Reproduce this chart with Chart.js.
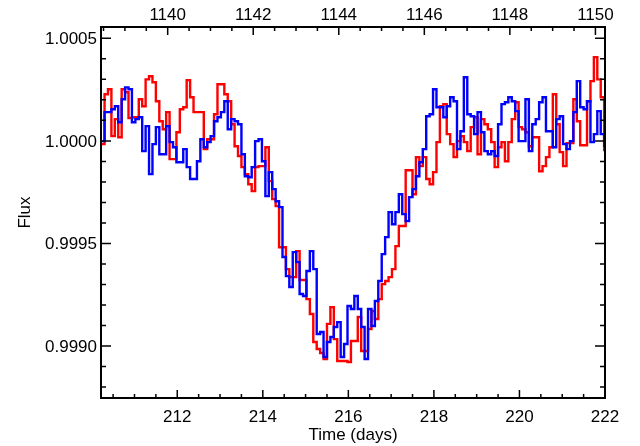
<!DOCTYPE html>
<html>
<head>
<meta charset="utf-8">
<script src="https://cdn.jsdelivr.net/npm/chart.js@4.4.0/dist/chart.umd.min.js"></script>
<style>
  html, body { margin: 0; padding: 0; background: #fff; }
  #wrap { width: 640px; height: 446px; }
</style>
</head>
<body>
<div id="wrap"><canvas id="chart" width="640" height="446"></canvas></div>
<script>
// bin start times (days)
const times = [
  210.22, 210.30, 210.38, 210.46, 210.54, 210.62, 210.70, 210.78, 210.86, 210.94,
  211.02, 211.10, 211.18, 211.26, 211.34, 211.42, 211.50, 211.58, 211.66, 211.74,
  211.82, 211.90, 211.98, 212.06, 212.14, 212.22, 212.30, 212.38, 212.46, 212.54,
  212.62, 212.70, 212.78, 212.86, 212.94, 213.02, 213.10, 213.18, 213.26, 213.34,
  213.42, 213.50, 213.58, 213.66, 213.74, 213.82, 213.90, 213.98, 214.06, 214.14,
  214.22, 214.30, 214.38, 214.46, 214.54, 214.62, 214.70, 214.78, 214.86, 214.94,
  215.02, 215.10, 215.18, 215.26, 215.34, 215.42, 215.50, 215.58, 215.66, 215.74,
  215.82, 215.90, 215.98, 216.06, 216.14, 216.22, 216.30, 216.38, 216.46, 216.54,
  216.62, 216.70, 216.78, 216.86, 216.94, 217.02, 217.10, 217.18, 217.26, 217.34,
  217.42, 217.50, 217.58, 217.66, 217.74, 217.82, 217.90, 217.98, 218.06, 218.14,
  218.22, 218.30, 218.38, 218.46, 218.54, 218.62, 218.70, 218.78, 218.86, 218.94,
  219.02, 219.10, 219.18, 219.26, 219.34, 219.42, 219.50, 219.58, 219.66, 219.74,
  219.82, 219.90, 219.98, 220.06, 220.14, 220.22, 220.30, 220.38, 220.46, 220.54,
  220.62, 220.70, 220.78, 220.86, 220.94, 221.02, 221.10, 221.18, 221.26, 221.34,
  221.42, 221.50, 221.58, 221.66, 221.74, 221.82, 221.90, 221.98
];

const fluxRed = [
  0.999984, 1.000227, 1.000252, 1.000023, 1.000106, 1.000018, 1.000252, 1.000237, 1.000111, 1.000115,
  1.000115, 1.000203, 1.000169, 1.000300, 1.000315, 1.000286, 1.000193, 1.000096, 1.000057, 1.000140,
  0.999911, 0.999911, 1.000042, 1.000154, 1.000164, 1.000296, 1.000213, 1.000140, 1.000140, 1.000140,
  0.999960, 1.000008, 1.000008, 1.000130, 1.000276, 1.000276, 1.000227, 1.000193, 1.000081, 0.999974,
  0.999926, 0.999872, 0.999838, 0.999789, 0.999755, 0.999872, 0.999877, 0.999877, 0.999969, 0.999804,
  0.999716, 0.999682, 0.999482, 0.999482, 0.999375, 0.999336, 0.999336, 0.999463, 0.999322, 0.999322,
  0.999229, 0.999156, 0.999020, 0.998986, 0.998966, 0.998937, 0.999108, 0.999190, 0.999034, 0.998927,
  0.998927, 0.998927, 0.998922, 0.999025, 0.999025, 0.999142, 0.998976, 0.998976, 0.999083, 0.999171,
  0.999132, 0.999229, 0.999302, 0.999317, 0.999336, 0.999375, 0.999487, 0.999585, 0.999585, 0.999857,
  0.999857, 0.999740, 0.999921, 0.999877, 0.999921, 0.999814, 0.999789, 0.999848, 0.999994, 1.000169,
  1.000179, 1.000033, 0.999984, 0.999921, 0.999999, 1.000023, 0.999994, 0.999950, 1.000067, 1.000115,
  0.999935, 1.000106, 1.000081, 1.000057, 0.999994, 0.999872, 0.999969, 0.999994, 0.999901, 0.999994,
  1.000106, 1.000188, 1.000067, 1.000057, 1.000042, 0.999974, 1.000018, 1.000018, 0.999852, 0.999877,
  0.999921, 0.999969, 1.000227, 1.000081, 0.999945, 0.999877, 0.999989, 0.999989, 1.000203, 1.000096,
  0.999979, 0.999979, 1.000193, 1.000291, 1.000408, 1.000300, 1.000213, 0.999950
];

const fluxBlue = [
  0.999999, 1.000140, 1.000140, 1.000154, 1.000169, 1.000091, 1.000203, 1.000261, 1.000252, 1.000091,
  1.000106, 1.000115, 0.999950, 1.000072, 0.999838, 0.999984, 1.000067, 0.999935, 0.999935, 1.000072,
  0.999994, 0.999969, 0.999896, 0.999896, 0.999960, 0.999872, 0.999814, 0.999814, 0.999901, 1.000008,
  0.999969, 0.999994, 1.000023, 1.000096, 1.000115, 1.000140, 1.000193, 1.000057, 1.000106, 1.000096,
  1.000081, 0.999935, 0.999828, 0.999823, 0.999872, 0.999999, 1.000008, 0.999901, 0.999731, 0.999848,
  0.999765, 0.999706, 0.999677, 0.999434, 0.999341, 0.999288, 0.999458, 0.999409, 0.999254, 0.999244,
  0.999366, 0.999463, 0.999375, 0.999059, 0.999069, 0.998947, 0.999020, 0.999044, 0.999093, 0.999117,
  0.998947, 0.999010, 0.999195, 0.999181, 0.999244, 0.999181, 0.999093, 0.998937, 0.999181, 0.999098,
  0.999220, 0.999317, 0.999448, 0.999531, 0.999653, 0.999594, 0.999653, 0.999740, 0.999643, 0.999609,
  0.999726, 0.999765, 0.999828, 0.999896, 0.999960, 1.000120, 1.000130, 1.000252, 1.000164, 1.000164,
  1.000115, 1.000169, 1.000213, 1.000193, 0.999960, 1.000047, 1.000310, 1.000130, 1.000120, 1.000033,
  1.000140, 1.000042, 0.999950, 0.999935, 0.999950, 0.999926, 1.000081, 1.000179, 1.000188, 1.000213,
  1.000193, 1.000145, 0.999999, 0.999999, 1.000203, 0.999950, 1.000081, 1.000106, 1.000188, 1.000213,
  1.000047, 1.000047, 0.999969, 1.000106, 1.000120, 0.999984, 0.999960, 0.999999, 1.000140, 1.000291,
  1.000164, 1.000154, 1.000193, 0.999994, 1.000033, 1.000145, 1.000033, 0.999970
];

const bottomTicks = [212, 214, 216, 218, 220, 222];
const topTicks = [1140, 1142, 1144, 1146, 1148, 1150];
const fluxTicks = [0.9990, 0.9995, 1.0000, 1.0005];
const fluxTickLabels = ['0.9990', '0.9995', '1.0000', '1.0005'];

const timeMin = 210.217, timeMax = 222.0;
const topOffset = 928.224;   // upper axis runs parallel to the lower one
const fluxMin = 0.998747, fluxMax = 1.000555;

const FONT = '17px "Liberation Sans", Arial, Helvetica, sans-serif';

function series(values) {
  return times.map((t, i) => ({ x: t, y: values[i] }));
}

// IDL-style box frame: inward ticks on all four sides, labels outside
const framePlugin = {
  id: 'frame',
  afterDatasetsDraw(chart) {
    const { ctx, chartArea: a, scales } = chart;
    const xs = scales.x, xt = scales.xTop, ys = scales.y;
    ctx.save();
    ctx.strokeStyle = '#000';
    ctx.fillStyle = '#000';

    ctx.lineWidth = 1.5;
    ctx.beginPath();
    // bottom axis, minor every 0.5 day
    for (let v = 210.5; v <= timeMax + 1e-6; v += 0.5) {
      const px = xs.getPixelForValue(v);
      const len = bottomTicks.some(t => Math.abs(t - v) < 1e-6) ? 8 : 4;
      ctx.moveTo(px, a.bottom); ctx.lineTo(px, a.bottom - len);
    }
    // top axis
    for (let v = 1138.5; v <= timeMax + topOffset + 1e-6; v += 0.5) {
      const px = xt.getPixelForValue(v);
      const len = topTicks.some(t => Math.abs(t - v) < 1e-6) ? 8 : 4;
      ctx.moveTo(px, a.top); ctx.lineTo(px, a.top + len);
    }
    // left and right axes, minor every 0.0001
    for (let i = 9988; i <= 10005; i++) {
      const v = i / 10000;
      const py = ys.getPixelForValue(v);
      const len = i % 5 === 0 ? 10 : 5;
      ctx.moveTo(a.left, py); ctx.lineTo(a.left + len, py);
      ctx.moveTo(a.right, py); ctx.lineTo(a.right - len, py);
    }
    ctx.stroke();

    ctx.lineWidth = 2;
    ctx.strokeRect(a.left, a.top, a.right - a.left, a.bottom - a.top);

    ctx.font = FONT;
    ctx.textBaseline = 'alphabetic';
    ctx.textAlign = 'center';
    bottomTicks.forEach(v => ctx.fillText(String(v), xs.getPixelForValue(v), a.bottom + 24));
    topTicks.forEach(v => ctx.fillText(String(v), xt.getPixelForValue(v), a.top - 7));
    ctx.fillText('Time (days)', (a.left + a.right) / 2, a.bottom + 42);

    ctx.textAlign = 'right';
    fluxTicks.forEach((v, i) => ctx.fillText(fluxTickLabels[i], a.left - 4, ys.getPixelForValue(v) + 6));

    ctx.translate(30, (a.top + a.bottom) / 2);
    ctx.rotate(-Math.PI / 2);
    ctx.textAlign = 'center';
    ctx.fillText('Flux', 0, 0);
    ctx.restore();
  }
};

new Chart(document.getElementById('chart'), {
  type: 'line',
  data: {
    datasets: [
      {
        label: 'blue',
        data: series(fluxBlue),
        borderColor: '#0000ff',
        borderWidth: 2.4,
        stepped: true,
        pointRadius: 0,
        fill: false
      },
      {
        label: 'red',
        data: series(fluxRed),
        borderColor: '#ff0000',
        borderWidth: 2.4,
        stepped: true,
        pointRadius: 0,
        fill: false
      }
    ]
  },
  options: {
    responsive: false,
    animation: false,
    layout: { padding: { left: 101, top: 27, right: 35, bottom: 48 } },
    plugins: { legend: { display: false }, tooltip: { enabled: false } },
    scales: {
      x: { type: 'linear', min: timeMin, max: timeMax, display: false },
      xTop: { type: 'linear', axis: 'x', position: 'top', min: timeMin + topOffset, max: timeMax + topOffset, display: false },
      y: { type: 'linear', min: fluxMin, max: fluxMax, display: false }
    }
  },
  plugins: [framePlugin]
});
</script>
</body>
</html>
